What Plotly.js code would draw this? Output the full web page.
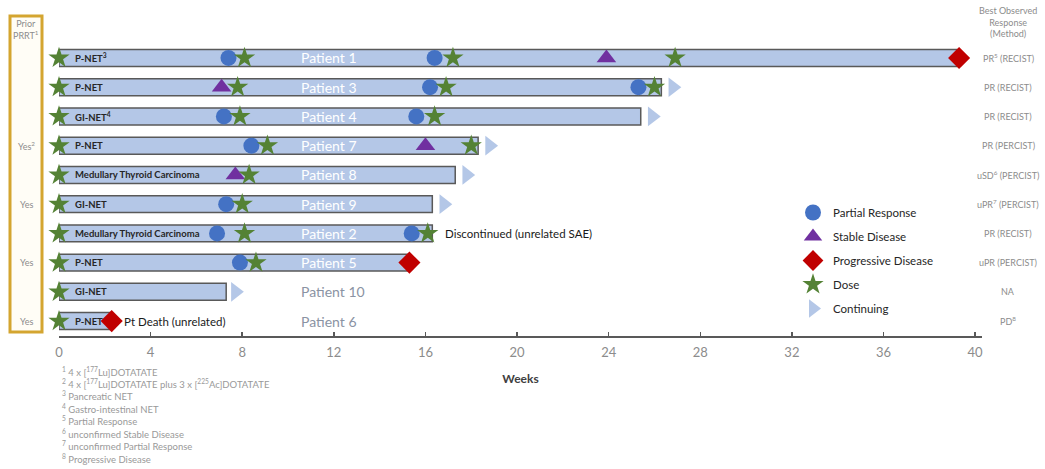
<!DOCTYPE html>
<html>
<head>
<meta charset="utf-8">
<script src="https://cdn.plot.ly/plotly-3.0.1.min.js"></script>
<style>html,body{margin:0;padding:0;background:#fff;}#chart{width:1045px;height:469px;}</style>
</head>
<body>
<div id="chart"></div>
<script>
// ---- data ----
const patients = ['Patient 1','Patient 3','Patient 4','Patient 7','Patient 8','Patient 9','Patient 2','Patient 5','Patient 10','Patient 6'];
const tumorTypes = ['P-NET<sup>3</sup>','P-NET','GI-NET<sup>4</sup>','P-NET','Medullary Thyroid Carcinoma','GI-NET','Medullary Thyroid Carcinoma','P-NET','GI-NET','P-NET'];
const weeksOnTreatment = [39.2, 26.3, 25.4, 18.3, 17.3, 16.3, 16.3, 15.2, 7.3, 2.3];
const priorPRRT = ['', '', '', 'Yes<sup>2</sup>', '', 'Yes', '', 'Yes', '', 'Yes'];
const bestResponse = ['PR<sup>5</sup> (RECIST)','PR (RECIST)','PR (RECIST)','PR (PERCIST)','uSD<sup>6</sup> (PERCIST)','uPR<sup>7</sup> (PERCIST)','PR (RECIST)','uPR (PERCIST)','NA','PD<sup>8</sup>'];
const doseWeeks = [[0,8.1,17.2,26.9],[0,7.8,16.9,26.0],[0,7.9,16.4],[0,9.1,18.0],[0,8.3],[0,8.0],[0,8.1,16.1],[0,8.6],[0],[0]];
const partialResponseWeeks = [[7.4,16.4],[16.2,25.3],[7.2,15.6],[8.4],[],[7.3],[6.9,15.4],[7.9],[],[]];
const stableDiseaseWeeks = [[23.9],[7.1],[],[16.0],[7.7],[],[],[],[],[]];
const progressiveDiseaseWeeks = [[39.3],[],[],[],[],[],[],[15.3],[],[2.3]];
const continuingWeeks = [[],[26.8],[25.9],[18.8],[17.8],[16.8],[],[],[7.7],[]];
const eventNotes = ['','','','','','','Discontinued (unrelated SAE)','','','Pt Death (unrelated)'];
const xTicks = [0,4,8,12,16,20,24,28,32,36,40];
const footnotes = [
  '<sup>1</sup> 4 x [<sup>177</sup>Lu]DOTATATE',
  '<sup>2</sup> 4 x [<sup>177</sup>Lu]DOTATATE plus 3 x [<sup>225</sup>Ac]DOTATATE',
  '<sup>3</sup> Pancreatic NET',
  '<sup>4</sup> Gastro-intestinal NET',
  '<sup>5</sup> Partial Response',
  '<sup>6</sup> unconfirmed Stable Disease',
  '<sup>7</sup> unconfirmed Partial Response',
  '<sup>8</sup> Progressive Disease'
];

// ---- helpers ----
function flatten(arr){
  const xs=[], ys=[];
  arr.forEach((list,i)=>list.forEach(v=>{xs.push(v); ys.push(patients[i]);}));
  return {x:xs, y:ys};
}
const FONT = 'Lato, "Open Sans", sans-serif';
const GRAY = '#8c8c8c';

const pr = flatten(partialResponseWeeks);
const sd = flatten(stableDiseaseWeeks);
const pd = flatten(progressiveDiseaseWeeks);
const dose = flatten(doseWeeks);
const cont = flatten(continuingWeeks);

const traces = [
  {type:'bar', orientation:'h', x:weeksOnTreatment, y:patients, base:0, width:0.58,
   marker:{color:'#b4c7e7', line:{color:'#595959', width:1.5}}, showlegend:false, hoverinfo:'skip'},
  {type:'scatter', mode:'markers', name:'Partial Response', x:pr.x, y:pr.y, legendgroup:'a',
   marker:{symbol:'circle', size:16, color:'#4472c4'}, cliponaxis:false},
  {type:'scatter', mode:'markers', name:'Stable Disease', x:sd.x, y:sd.y, legendgroup:'b',
   marker:{symbol:'triangle-up', size:17, color:'#7030a0'}, cliponaxis:false},
  {type:'scatter', mode:'markers', name:'Progressive Disease', x:pd.x, y:pd.y, legendgroup:'c',
   marker:{symbol:'diamond', size:17, color:'#c00000'}, cliponaxis:false},
  {type:'scatter', mode:'markers', name:'Dose', x:dose.x, y:dose.y, legendgroup:'d',
   marker:{symbol:'star', size:16, color:'#548235'}, cliponaxis:false},
  {type:'scatter', mode:'markers', name:'Continuing', x:cont.x, y:cont.y, legendgroup:'e',
   marker:{symbol:'triangle-right', size:17, color:'#b4c7e7'}, cliponaxis:false}
];

// paper coordinate helpers (plot area: x 59..982 px, y 10..336 px)
const L=59, R=982, T=10, B=336;
const px = v => (v-L)/(R-L);
const py = v => (B-v)/(B-T);

const annotations = [];
patients.forEach((p,i)=>{
  annotations.push({x:0.6, y:p, xref:'x', yref:'y', text:tumorTypes[i], showarrow:false, xanchor:'left', yanchor:'middle',
    font:{family:FONT, size:9.5, color:'#262626', weight:'bold'}});
  const labelX = 10.5;
  annotations.push({x:labelX, y:p, xref:'x', yref:'y', text:p, showarrow:false, xanchor:'left', yanchor:'middle',
    font:{family:FONT, size:14, color: weeksOnTreatment[i] > labelX+3 ? '#ffffff' : '#8a93a3'}});
  if(priorPRRT[i]) annotations.push({x:px(26), y:p, xref:'paper', yref:'y', text:priorPRRT[i], showarrow:false,
    xanchor:'center', yanchor:'middle', font:{family:FONT, size:9, color:GRAY}});
  annotations.push({x:px(1008), y:p, xref:'paper', yref:'y', text:bestResponse[i], showarrow:false,
    xanchor:'center', yanchor:'middle', font:{family:FONT, size:9, color:GRAY}});
  if(eventNotes[i]){
    const all = [].concat(doseWeeks[i], partialResponseWeeks[i], progressiveDiseaseWeeks[i], [weeksOnTreatment[i]]);
    annotations.push({x:Math.max.apply(null, all)+0.45, y:p, xref:'x', yref:'y', text:eventNotes[i], showarrow:false,
      xanchor:'left', yanchor:'middle', font:{family:FONT, size:11.5, color:'#1a1a1a'}});
  }
});
annotations.push({x:px(26), y:py(29), xref:'paper', yref:'paper', text:'Prior<br>PRRT<sup>1</sup>', showarrow:false,
  xanchor:'center', yanchor:'middle', font:{family:FONT, size:9, color:GRAY}});
annotations.push({x:px(1008), y:py(22), xref:'paper', yref:'paper', text:'Best Observed<br>Response<br>(Method)', showarrow:false,
  xanchor:'center', yanchor:'middle', font:{family:FONT, size:9, color:GRAY}});
footnotes.forEach((t,k)=>{
  annotations.push({x:px(60), y:py(371+k*12.45), xref:'paper', yref:'paper', text:t, showarrow:false,
    xanchor:'left', yanchor:'middle', font:{family:FONT, size:9.5, color:'#999999'}});
});

const layout = {
  width:1045, height:469,
  margin:{l:L, r:1045-R, t:T, b:469-B},
  paper_bgcolor:'#ffffff', plot_bgcolor:'#ffffff',
  font:{family:FONT},
  barmode:'overlay',
  hovermode:false,
  xaxis:{range:[0,40.3], tickvals:xTicks, ticktext:xTicks.map(String), showgrid:false, zeroline:false,
    showline:true, linecolor:'#595959', linewidth:1.5, ticks:'inside', ticklen:4, tickcolor:'#595959', tickwidth:1.5,
    ticklabelstandoff:4,
    tickfont:{family:FONT, size:13, color:GRAY},
    title:{text:'Weeks', standoff:15, font:{family:FONT, size:12, color:'#404040', weight:'bold'}}},
  yaxis:{type:'category', categoryorder:'array', categoryarray:patients, range:[9.51,-1.64],
    showgrid:false, zeroline:false, showline:false, showticklabels:false, ticks:''},
  legend:{x:px(793), y:py(198), xanchor:'left', yanchor:'top', bgcolor:'rgba(0,0,0,0)',
    traceorder:'grouped', tracegroupgap:5, font:{family:FONT, size:11.5, color:'#262626'}},
  shapes:[{type:'rect', xref:'paper', yref:'paper', x0:px(10), x1:px(42), y0:py(332), y1:py(16),
    line:{color:'#d4a530', width:3}, fillcolor:'rgba(255,252,240,0.6)', layer:'below'}],
  annotations:annotations
};

Plotly.newPlot('chart', traces, layout, {displayModeBar:false, staticPlot:true});
</script>
</body>
</html>
